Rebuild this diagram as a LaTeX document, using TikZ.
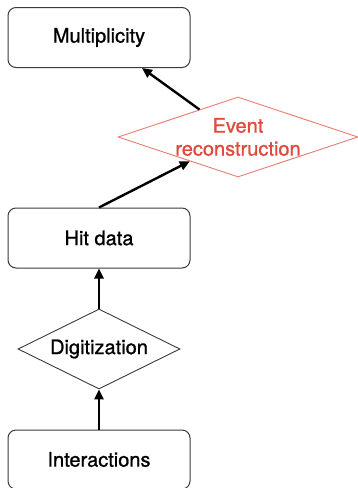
\documentclass[tikz,border=0pt]{standalone}
\usepackage{fontspec}
\setmainfont{TeX Gyre Heros}[FakeBold=1]
\usetikzlibrary{shapes.geometric,arrows.meta,calc}
\definecolor{boxline}{HTML}{3A3A3A}
\definecolor{evred}{HTML}{E04A3C}
\definecolor{evline}{HTML}{EA7A6E}
\tikzset{
  stagebox/.style={draw=boxline, line width=1pt, rounded corners=8pt,
    minimum width=182pt, minimum height=60pt, inner sep=0pt,
    font=\fontsize{20}{23}\selectfont},
  procdiamond/.style={diamond, draw=boxline, line width=0.9pt, inner sep=0pt,
    font=\fontsize{20}{23}\selectfont},
  flow/.style={line width=2.4pt, -{Triangle[length=10pt,width=9pt]}}
}
\begin{document}
\begin{tikzpicture}[x=1pt,y=-1pt]
  \useasboundingbox (0,0) rectangle (358,488);
  \node[stagebox] (mult) at (99,37.5) {Multiplicity};
  \node[procdiamond, draw=evline, text=evred, aspect=3, minimum width=240pt, minimum height=80pt,
        align=center] (event) at (238,137) {Event\\reconstruction};
  \node[stagebox] (hit) at (99,238) {Hit data};
  \node[procdiamond, aspect=2.02, minimum width=162pt, minimum height=80pt] (digi) at (99,349) {Digitization};
  \node[stagebox, minimum height=59pt] (inter) at (99,459.5) {Interactions};

  \draw[flow] (inter.north) -- (digi.south);
  \draw[flow] (digi.north) -- (hit.south);
  \draw[flow] (hit.north) -- ($(event.west)!0.6!(event.south)$);
  \draw[flow] ($(event.west)!0.68!(event.north)$) -- ($(mult.south)!0.47!(mult.south east)$);
\end{tikzpicture}
\end{document}
